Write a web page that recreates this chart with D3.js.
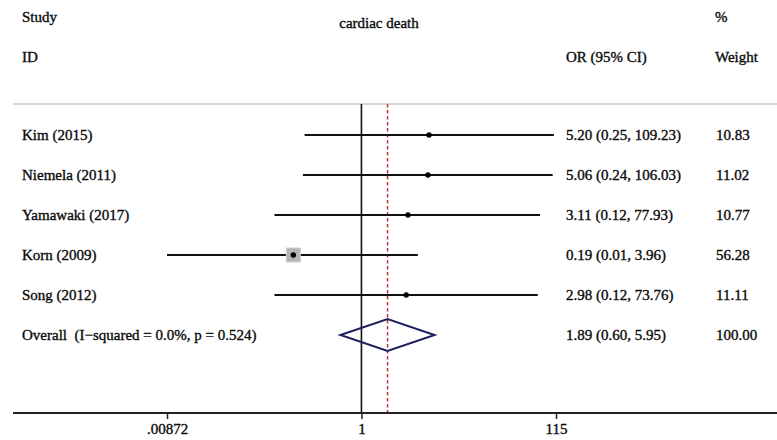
<!DOCTYPE html>
<html>
<head>
<meta charset="utf-8">
<script src="https://cdn.jsdelivr.net/npm/d3@7"></script>
<style>
  html, body { margin: 0; padding: 0; background: #fff; }
  svg text {
    font-family: "Liberation Serif", "Times New Roman", serif;
    font-size: 15px; fill: #0a0a0a;
    stroke: #0a0a0a; stroke-width: 0.35px;
    white-space: pre;
  }
</style>
</head>
<body>
<svg id="chart" width="777" height="440"></svg>
<script>
// ── data ─────────────────────────────────────────────────────────────────────
const studies = ['Kim (2015)', 'Niemela (2011)', 'Yamawaki (2017)', 'Korn (2009)', 'Song (2012)'];
const orValues = [5.20, 5.06, 3.11, 0.19, 2.98];
const ciLower  = [0.25, 0.24, 0.12, 0.00872, 0.12];
const ciUpper  = [109.23, 106.03, 77.93, 3.96, 73.76];
const weights  = [10.83, 11.02, 10.77, 56.28, 11.11];

const overallLabel = 'Overall  (I\u2212squared = 0.0%, p = 0.524)';
const overall = { or: 1.89, lo: 0.60, hi: 5.95, weight: 100.00 };

const tickValues = [0.00872, 1, 115];
const tickLabels = ['.00872', '1', '115'];

// ── layout ───────────────────────────────────────────────────────────────────
const svg = d3.select('#chart');
const W = 777;
const plotTop = 104, plotBottom = 413;

const x = d3.scaleLog().domain([0.00872, 115]).range([167, 556]);
const y = d3.scalePoint()
  .domain([...studies, overallLabel])
  .range([135, 335]);
// box side grows with weight; small studies hide behind the dot
const boxSize = d3.scaleLinear().domain([0, d3.max(weights)]).range([0, 14]);

const fmt = d3.format('.2f');

// ── header ───────────────────────────────────────────────────────────────────
svg.append('text').attr('x', 22).attr('y', 22).text('Study');
svg.append('text').attr('x', 22).attr('y', 62).text('ID');
svg.append('text').attr('x', 379).attr('y', 28).attr('text-anchor', 'middle').text('cardiac death');
svg.append('text').attr('x', 566).attr('y', 62).text('OR (95% CI)');
svg.append('text').attr('x', 715).attr('y', 22).text('%');
svg.append('text').attr('x', 715).attr('y', 62).text('Weight');

// top rule
svg.append('line')
  .attr('x1', 13).attr('x2', W)
  .attr('y1', plotTop).attr('y2', plotTop)
  .attr('stroke', '#c8c8c8').attr('stroke-width', 1.5);

// ── reference lines ──────────────────────────────────────────────────────────
svg.append('line')
  .attr('x1', x(1)).attr('x2', x(1))
  .attr('y1', plotTop).attr('y2', plotBottom)
  .attr('stroke', '#111').attr('stroke-width', 1.6);

svg.append('line')
  .attr('x1', x(overall.or)).attr('x2', x(overall.or))
  .attr('y1', plotTop).attr('y2', plotBottom)
  .attr('stroke', '#c0333a').attr('stroke-width', 1.5)
  .attr('stroke-dasharray', '3.5,2.5');

// ── study rows ───────────────────────────────────────────────────────────────
const rows = svg.append('g').selectAll('g')
  .data(studies.map((s, i) => ({
    name: s, or: orValues[i], lo: ciLower[i], hi: ciUpper[i], w: weights[i]
  })))
  .join('g');

rows.append('line')
  .attr('x1', d => x(d.lo)).attr('x2', d => x(d.hi))
  .attr('y1', d => y(d.name)).attr('y2', d => y(d.name))
  .attr('stroke', '#111').attr('stroke-width', 2);

rows.append('rect')
  .attr('x', d => x(d.or) - boxSize(d.w) / 2)
  .attr('y', d => y(d.name) - boxSize(d.w) / 2)
  .attr('width', d => boxSize(d.w))
  .attr('height', d => boxSize(d.w))
  .attr('fill', '#b4b4b4')
  .attr('stroke', '#d0d0d0').attr('stroke-width', 1);

rows.append('circle')
  .attr('cx', d => x(d.or)).attr('cy', d => y(d.name))
  .attr('r', 2.7).attr('fill', '#000');

rows.append('text').attr('x', 22).attr('y', d => y(d.name) + 5).text(d => d.name);
rows.append('text').attr('x', 566).attr('y', d => y(d.name) + 5)
  .text(d => `${fmt(d.or)} (${fmt(d.lo)}, ${fmt(d.hi)})`);
rows.append('text').attr('x', 716).attr('y', d => y(d.name) + 5).text(d => fmt(d.w));

// ── overall diamond ──────────────────────────────────────────────────────────
const oy = y(overallLabel);
svg.append('path')
  .attr('d', `M${x(overall.lo)},${oy} L${x(overall.or)},${oy - 16} L${x(overall.hi)},${oy} L${x(overall.or)},${oy + 16} Z`)
  .attr('fill', 'none')
  .attr('stroke', '#1c2060').attr('stroke-width', 2);

svg.append('text').attr('x', 22).attr('y', oy + 5).text(overallLabel);
svg.append('text').attr('x', 566).attr('y', oy + 5)
  .text(`${fmt(overall.or)} (${fmt(overall.lo)}, ${fmt(overall.hi)})`);
svg.append('text').attr('x', 716).attr('y', oy + 5).text(fmt(overall.weight));

// ── x axis ───────────────────────────────────────────────────────────────────
svg.append('line')
  .attr('x1', 13).attr('x2', W)
  .attr('y1', plotBottom).attr('y2', plotBottom)
  .attr('stroke', '#222').attr('stroke-width', 2);

const axis = svg.append('g')
  .attr('transform', `translate(0,${plotBottom})`)
  .call(d3.axisBottom(x)
    .tickValues(tickValues)
    .tickFormat((d, i) => tickLabels[i])
    .tickSize(6)
    .tickPadding(4));

axis.select('.domain').remove();
axis.selectAll('.tick line').attr('stroke', '#222').attr('stroke-width', 1.5);
axis.selectAll('.tick text')
  .attr('fill', '#0a0a0a')
  .style('font-family', '"Liberation Serif", "Times New Roman", serif')
  .style('font-size', '15px');
</script>
</body>
</html>
